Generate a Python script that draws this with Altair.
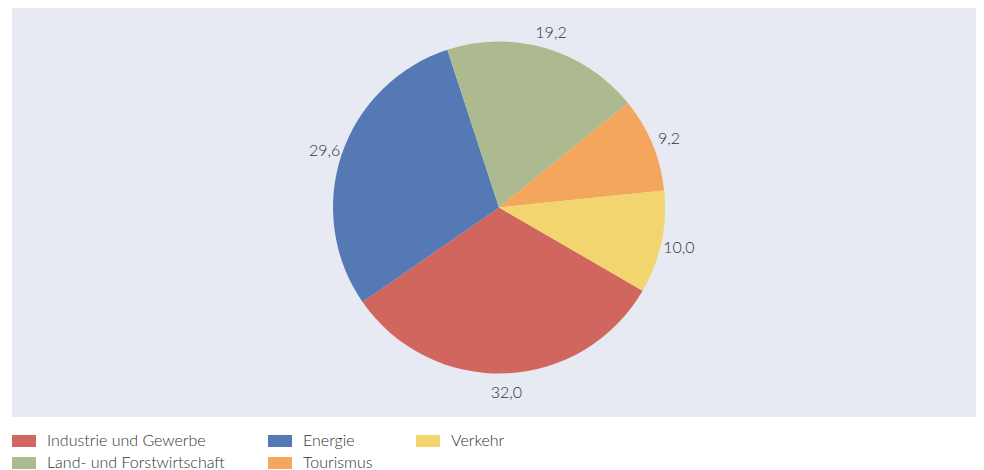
import math
import altair as alt
import pandas as pd

# Data (pie order, clockwise)
categories = ["Industrie und Gewerbe", "Energie", "Land- und Forstwirtschaft", "Tourismus", "Verkehr"]
values = [32.0, 29.6, 19.2, 9.2, 10.0]

# Legend order (row-major, 3 columns) and colours
legend_order = ["Industrie und Gewerbe", "Energie", "Verkehr", "Land- und Forstwirtschaft", "Tourismus"]
legend_colors = ["#d0665d", "#5579b4", "#f2d56f", "#adb98f", "#f5a65d"]

df = pd.DataFrame({
    "Kategorie": categories,
    "Wert": values,
    "idx": list(range(len(categories))),
})
df["label"] = [f"{v:.1f}".replace(".", ",") for v in values]

W, H = 964, 409
start = math.radians(120.1)
CX, CY = 487, 199.5
FONT = "Lato"

theta = alt.Theta("Wert:Q", stack=True, scale=alt.Scale(range=[start, start + 2 * math.pi]))

arcs = alt.Chart(df).mark_arc(outerRadius=166, strokeWidth=0).encode(
    theta=theta,
    order=alt.Order("idx:O"),
    x=alt.value(CX),
    y=alt.value(CY),
    color=alt.Color(
        "Kategorie:N",
        scale=alt.Scale(domain=legend_order, range=legend_colors),
        legend=alt.Legend(
            title=None,
            orient="none",
            legendX=0,
            legendY=421,
            direction="horizontal",
            columns=3,
            symbolType="M-1,-0.5H1V0.5H-1Z",
            symbolSize=576,
            symbolStrokeWidth=0,
            labelFont=FONT,
            labelFontSize=16,
            labelFontWeight=300,
            labelColor="#333333",
            labelOffset=11,
            labelLimit=400,
            columnPadding=43,
            rowPadding=2,
            padding=0,
        ),
    ),
)

texts = alt.Chart(df).mark_text(
    radius=184, font=FONT, fontSize=16, fontWeight=300, color="#333333",
    align="center", baseline="middle", dy=2,
).encode(
    theta=theta,
    order=alt.Order("idx:O"),
    x=alt.value(CX),
    y=alt.value(CY),
    text="label:N",
)

chart = alt.layer(arcs, texts).properties(
    width=W, height=H,
    padding={"left": 4, "top": 0, "right": 0, "bottom": 0},
).configure_view(
    fill="#e7e9f3", stroke=None,
)

chart.save("out.html", embed_options={"renderer": "svg", "actions": False})
